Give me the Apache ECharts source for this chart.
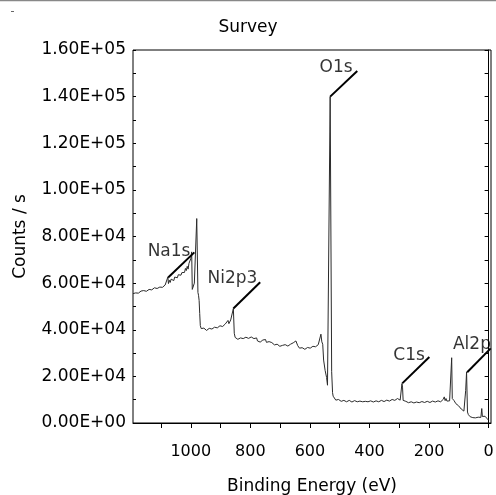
<!DOCTYPE html>
<html>
<head>
<meta charset="utf-8">
<script src="https://cdn.jsdelivr.net/npm/echarts@6/dist/echarts.min.js"></script>
<style>
  html, body { margin: 0; padding: 0; background: #fff; }
  #chart { width: 496px; height: 495px; }
</style>
</head>
<body>
<div id="chart"></div>
<script>
// 能量 (eV) 与计数
var energy = [
  1194, 1191, 1188, 1185, 1182, 1179, 1176, 1173, 1170, 1167, 1164, 1161, 1158, 1155, 1152, 1149,
  1146, 1143, 1140, 1137, 1134, 1131, 1128, 1125, 1122, 1119, 1116, 1113, 1110, 1107, 1104, 1101,
  1098, 1095, 1092, 1089, 1086, 1083, 1080, 1077, 1075, 1072, 1069, 1066, 1063, 1060, 1057, 1054,
  1051, 1048, 1045, 1042, 1039, 1036, 1033, 1030, 1027, 1024, 1021, 1018, 1015, 1012, 1009, 1006,
  1003, 1000, 997, 995, 991, 988, 980, 976, 974, 972, 970, 968, 965, 962, 959, 956,
  953, 950, 947, 944, 941, 938, 935, 932, 929, 926, 923, 920, 917, 914, 911, 908,
  905, 902, 899, 896, 893, 890, 887, 884, 881, 878, 875, 872, 869, 866, 863, 860,
  857, 854, 851, 848, 845, 842, 839, 836, 833, 830, 827, 824, 821, 818, 815, 812,
  809, 806, 803, 800, 797, 794, 791, 788, 785, 782, 779, 776, 773, 770, 767, 764,
  761, 758, 755, 752, 749, 746, 743, 740, 737, 734, 731, 728, 725, 722, 719, 716,
  713, 710, 707, 704, 701, 698, 695, 692, 689, 686, 683, 680, 677, 674, 671, 668,
  665, 662, 659, 656, 653, 650, 647, 644, 641, 638, 635, 632, 629, 626, 623, 620,
  617, 614, 611, 608, 605, 602, 599, 596, 593, 590, 587, 584, 581, 578, 575, 572,
  569, 566, 563, 560, 557, 554, 549, 544, 541, 538, 532, 527, 524, 522, 519, 516,
  513, 510, 507, 504, 501, 498, 495, 492, 489, 486, 483, 480, 477, 474, 471, 468,
  465, 462, 459, 456, 453, 450, 447, 444, 441, 438, 435, 432, 429, 426, 423, 420,
  417, 414, 411, 408, 405, 402, 399, 396, 393, 390, 387, 384, 381, 378, 375, 372,
  369, 366, 363, 360, 357, 354, 351, 348, 345, 342, 339, 336, 333, 330, 327, 324,
  321, 318, 315, 312, 309, 306, 303, 300, 297, 294, 291, 289, 287, 284, 281, 278,
  275, 272, 269, 266, 263, 260, 257, 254, 251, 248, 245, 242, 239, 236, 233, 230,
  227, 224, 221, 218, 215, 212, 209, 206, 203, 200, 197, 194, 191, 188, 185, 182,
  179, 176, 173, 170, 167, 164, 161, 158, 155, 152, 149, 146, 143, 140, 137, 134,
  131, 128, 126, 124, 122, 119, 116, 113, 110, 107, 104, 101, 98, 95, 92, 89,
  86, 83, 80, 77, 74, 71, 68, 65, 62, 59, 56, 53, 50, 47, 44, 41,
  38, 35, 32, 29, 26, 23, 21, 18, 15, 12, 9, 6, 3, 0
];
var counts = [
  55500, 56100, 55200, 55800, 55500, 56200, 55700, 56000, 55900, 56600, 56100, 56400, 56800, 56200, 56900, 56500,
  57100, 56700, 57300, 56900, 57500, 57100, 57600, 57300, 58000, 57500, 58100, 57700, 58400, 57900, 58300, 58000,
  58700, 58200, 58900, 58500, 59200, 58600, 59100, 62600, 59800, 61200, 60300, 61700, 60900, 62000, 61100, 62600,
  61800, 62900, 62300, 63600, 62800, 64100, 63400, 64500, 63700, 65200, 64600, 66300, 65400, 67200, 66000, 68500,
  67800, 70500, 73400, 57300, 57000, 60000, 87700, 56000, 54800, 52600, 47000, 41800, 40500, 40900, 40200, 40700,
  39900, 40300, 39700, 40400, 40000, 40600, 40100, 40800, 40300, 40900, 40500, 41100, 40600, 41300, 40800, 41500,
  41000, 41700, 41200, 41900, 41400, 42200, 41600, 42500, 42000, 43000, 44000, 42600, 43300, 44200, 43400, 45000,
  49100, 38500, 36700, 36100, 36500, 35900, 36400, 36000, 36500, 36100, 36600, 36200, 36700, 36300, 36800, 36400,
  36900, 36300, 36800, 36400, 36900, 36300, 36700, 36200, 36600, 36100, 36500, 35200, 34600, 35300, 34700, 35400,
  34900, 35600, 35000, 35500, 35800, 34600, 35000, 34400, 34900, 34300, 35000, 34500, 34800, 34100, 33500, 34000,
  33300, 33800, 33100, 33600, 32900, 33500, 32800, 33300, 33900, 33100, 33600, 32900, 33400, 33000, 33700, 33200,
  33800, 33300, 34000, 34400, 33600, 34200, 35200, 35800, 33200, 32500, 32100, 32600, 31900, 32300, 31700, 32200,
  31600, 32100, 31800, 32400, 32000, 32600, 32100, 32800, 32300, 32900, 32500, 33100, 32700, 33300, 32900, 33600,
  33200, 34000, 38100, 34800, 33800, 27000, 22600, 19500, 16200, 16500, 140000, 22000, 13000, 11500, 10800, 11200,
  9800, 10300, 9600, 10100, 9500, 9900, 9300, 9800, 9400, 9700, 9200, 9600, 9100, 9500, 9200, 9700,
  9100, 9500, 9000, 9400, 9100, 9600, 9000, 9400, 9100, 9500, 8900, 9400, 9000, 9300, 9100, 9500,
  8900, 9300, 9000, 9400, 9100, 9600, 9200, 9500, 9100, 9400, 9000, 9300, 9100, 9500, 9200, 9600,
  9100, 9400, 9200, 9700, 9300, 9600, 9200, 9700, 9400, 9800, 9300, 9900, 9400, 9800, 9500, 10100,
  9600, 10200, 9700, 10300, 9800, 10500, 10200, 10700, 9800, 9200, 16900, 15400, 9700, 9200, 8900, 9300,
  8800, 9100, 8700, 9200, 8800, 9100, 8700, 9000, 8600, 9100, 8700, 9000, 8800, 9200, 8700, 9100,
  8800, 9200, 8900, 9300, 8800, 9200, 8900, 9300, 8900, 9200, 8800, 9300, 9000, 9400, 8900, 9300,
  9000, 9400, 9100, 9500, 9000, 9400, 9100, 9700, 9300, 10200, 11200, 9600, 10500, 9400, 9800, 9100,
  9500, 9000, 9400, 28000, 10500, 10000, 9600, 8800, 8300, 8100, 7700, 7400, 6900, 6600, 6000, 5600,
  5300, 5100, 4900, 14000, 21900, 4700, 3600, 3000, 2700, 2400, 2800, 2300, 2700, 2500, 2200, 2600,
  2300, 2500, 2100, 2700, 2400, 6200, 2800, 2300, 2700, 2900, 2200, 2000, 1700, 1200
];

// 峰标注: 名称, 文字位置, 引线起止点
var peakNames = ["O1s", "Na1s", "Ni2p3", "C1s", "Al2p"];
var labelEnergy = [512, 1073, 860, 267, 56];
var labelCounts = [152300, 73400, 62100, 29100, 33800];
var leadFromE = [532, 1076, 857, 290, 72];
var leadFromC = [140000, 62400, 49100, 17000, 21800];
var leadToE = [441, 988, 767, 199, -7];
var leadToC = [151000, 73200, 60400, 28300, 32000];

var xTicks = [0, 100, 200, 300, 400, 500, 600, 700, 800, 900, 1000, 1100];
var xLabels = [0, 200, 400, 600, 800, 1000];

var FONT = "DejaVu Sans";

function sci(v) {
    var s = Number(v).toExponential(2).split("e");
    var e = parseInt(s[1], 10);
    var sign = e < 0 ? "-" : "+";
    e = Math.abs(e);
    return s[0] + "E" + sign + (e < 10 ? "0" + e : e);
}

var spectrum = [];
for (var i = 0; i < energy.length; i++) {
    spectrum.push([energy[i], counts[i]]);
}
var labelData = [];
var leadLines = [];
for (var j = 0; j < peakNames.length; j++) {
    labelData.push({ name: peakNames[j], value: [labelEnergy[j], labelCounts[j]] });
    leadLines.push([{ coord: [leadFromE[j], leadFromC[j]] }, { coord: [leadToE[j], leadToC[j]] }]);
}

var myChart = echarts.init(document.getElementById("chart"));
var option = {
    animation: false,
    title: {
        text: "Survey",
        left: "center",
        top: 14,
        textStyle: { fontFamily: FONT, fontSize: 17, fontWeight: "normal", color: "#000" }
    },
    grid: {
        left: 133, top: 50, right: 5, bottom: 72,
        outerBoundsMode: "none",
        containLabel: false,
        show: true, borderColor: "#000", borderWidth: 1
    },
    xAxis: {
        type: "value",
        inverse: true,
        min: -8,
        max: 1194,
        name: "Binding Energy (eV)",
        nameLocation: "middle",
        nameGap: 55,
        nameTextStyle: { fontFamily: FONT, fontSize: 17, color: "#000" },
        axisLine: { lineStyle: { color: "#000", width: 1 } },
        axisTick: { customValues: xTicks, length: 5, lineStyle: { color: "#000" } },
        axisLabel: {
            customValues: xLabels, margin: 21,
            fontFamily: FONT, fontSize: 16, color: "#000",
            formatter: function (v) { return String(v); }
        },
        splitLine: { show: false }
    },
    yAxis: [
        {
            type: "value",
            min: 0,
            max: 160000,
            interval: 10000,
            name: "Counts / s",
            nameLocation: "middle",
            nameGap: 104,
            nameTextStyle: { fontFamily: FONT, fontSize: 17, color: "#000" },
            axisLine: { show: true, lineStyle: { color: "#000", width: 1 } },
            axisTick: { show: true, length: 4, lineStyle: { color: "#000" } },
            axisLabel: {
                margin: 7, fontFamily: FONT, fontSize: 17, color: "#000",
                formatter: function (v) { return v % 20000 === 0 ? sci(v) : ""; }
            },
            splitLine: { show: false }
        },
        {
            // 轴内侧的短刻度
            type: "value",
            position: "left",
            min: 0,
            max: 160000,
            interval: 10000,
            axisLine: { show: false },
            axisTick: { show: true, inside: true, length: 3, lineStyle: { color: "#000" } },
            axisLabel: { show: false },
            splitLine: { show: false }
        }
    ],
    graphic: [
        { type: "line", shape: { x1: 0, y1: 0.5, x2: 496, y2: 0.5 }, style: { stroke: "#888", lineWidth: 1.5 } },
        { type: "line", shape: { x1: 11, y1: 11.5, x2: 14, y2: 11.5 }, style: { stroke: "#666", lineWidth: 1 } }
    ],
    series: [
        {
            type: "line",
            data: spectrum,
            showSymbol: false,
            clip: false,
            lineStyle: { color: "#2a2a2a", width: 1 },
            markLine: {
                silent: true,
                symbol: "none",
                label: { show: false },
                lineStyle: { color: "#000", width: 2, type: "solid" },
                data: leadLines
            }
        },
        {
            type: "scatter",
            data: labelData,
            symbolSize: 0,
            silent: true,
            label: {
                show: true,
                position: [0, 0],
                align: "center",
                verticalAlign: "middle",
                formatter: function (p) { return p.name; },
                fontFamily: FONT, fontSize: 17, color: "#000",
                textBorderWidth: 0
            }
        }
    ]
};
myChart.setOption(option);
</script>
</body>
</html>
